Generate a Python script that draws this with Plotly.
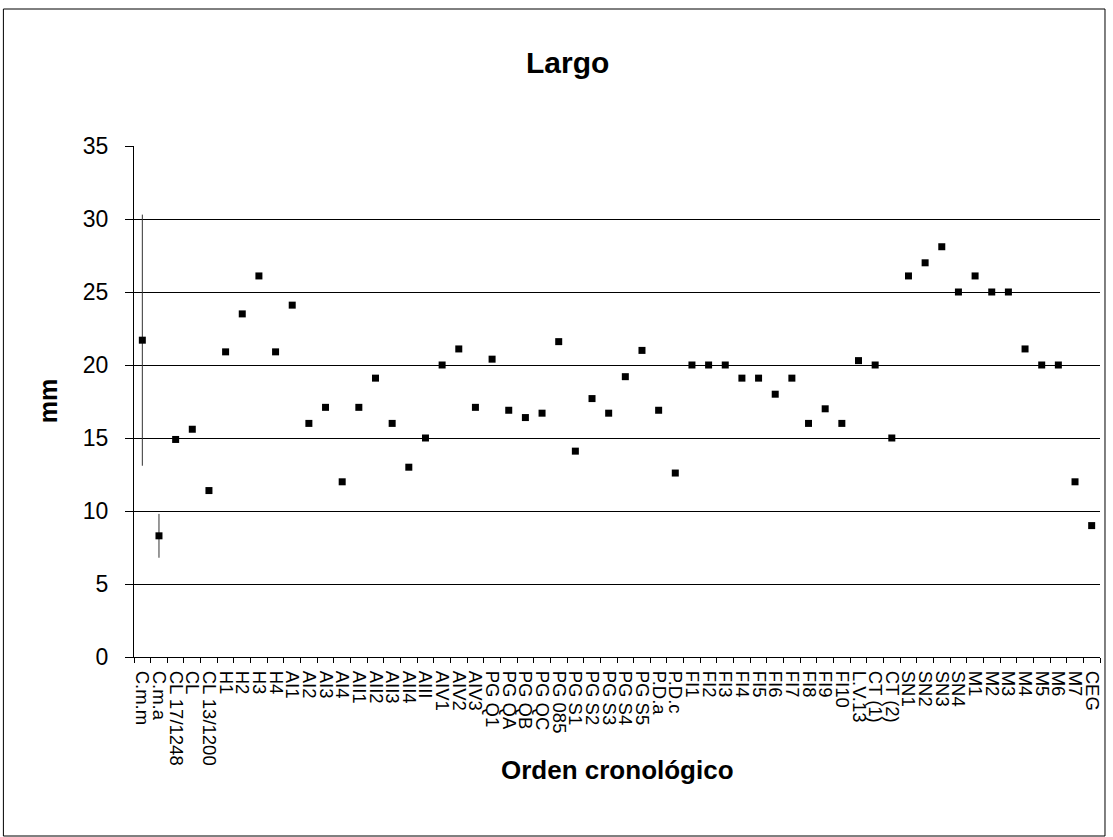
import plotly.graph_objects as go

categories = ["C.m.m", "C.m.a", "CL 17/1248", "CL", "CL 13/1200", "H1", "H2", "H3", "H4",
              "AI1", "AI2", "AI3", "AI4", "AII1", "AII2", "AII3", "AII4", "AIII",
              "AIV1", "AIV2", "AIV3", "PG Q1", "PG QA", "PG QB", "PG QC", "PG 085",
              "PG S1", "PG S2", "PG S3", "PG S4", "PG S5", "P.D.a", "P.D.c",
              "FI1", "FI2", "FI3", "FI4", "FI5", "FI6", "FI7", "FI8", "FI9", "FI10",
              "L.V.13", "CT (1)", "CT (2)", "SN1", "SN2", "SN3", "SN4",
              "M1", "M2", "M3", "M4", "M5", "M6", "M7", "CEG"]

largo = [21.7, 8.3, 14.9, 15.6, 11.4, 20.9, 23.5, 26.1, 20.9,
         24.1, 16.0, 17.1, 12.0, 17.1, 19.1, 16.0, 13.0, 15.0,
         20.0, 21.1, 17.1, 20.4, 16.9, 16.4, 16.7, 21.6,
         14.1, 17.7, 16.7, 19.2, 21.0, 16.9, 12.6,
         20.0, 20.0, 20.0, 19.1, 19.1, 18.0, 19.1, 16.0, 17.0, 16.0,
         20.3, 20.0, 15.0, 26.1, 27.0, 28.1, 25.0,
         26.1, 25.0, 25.0, 21.1, 20.0, 20.0, 12.0, 9.0]

error = [8.6, 1.5] + [0] * (len(categories) - 2)

y_ticks = [0, 5, 10, 15, 20, 25, 30, 35]

W, H = 1113, 837
L, R, T, B = 134, 10, 146, 180
PW, PH = W - L - R, H - T - B


def px_x(x):
    return (x - L) / PW


def px_y(y):
    return (H - B - y) / PH


FONT = "Liberation Sans, Arial, sans-serif"

fig = go.Figure()
fig.add_trace(go.Scatter(
    x=categories, y=largo, mode="markers",
    marker=dict(symbol="square", size=7, color="black"),
    error_y=dict(type="data", array=error, visible=True, width=0,
                 thickness=1, color="#333333"),
    showlegend=False,
))

fig.update_layout(
    width=W, height=H,
    margin=dict(l=L, r=R, t=T, b=B),
    paper_bgcolor="white", plot_bgcolor="white",
    font=dict(family=FONT, color="black"),
    xaxis=dict(
        type="category", range=[-0.5, len(categories) - 0.5],
        tickmode="array", tickvals=categories, ticktext=categories,
        showline=True, linecolor="black", linewidth=1,
        showgrid=False, ticks="outside", ticklen=5, tickcolor="black",
        tickson="boundaries", tickangle=90, ticklabelstandoff=9,
        tickfont=dict(size=18.5, family=FONT), zeroline=False,
    ),
    yaxis=dict(
        range=[0, 35], tickvals=y_ticks,
        showline=True, linecolor="black", linewidth=1,
        showgrid=True, gridcolor="black", gridwidth=1,
        ticks="outside", ticklen=8, tickcolor="black", ticklabelstandoff=12,
        tickfont=dict(size=23, family=FONT), zeroline=False,
    ),
    annotations=[
        dict(text="<b>Largo</b>", x=px_x(569), y=px_y(63), xref="paper", yref="paper",
             showarrow=False, font=dict(size=30, family=FONT), xanchor="center", yanchor="middle"),
        dict(text="<b>mm</b>", x=px_x(48), y=px_y(401), xref="paper", yref="paper",
             showarrow=False, textangle=-90, font=dict(size=25, family=FONT),
             xanchor="center", yanchor="middle"),
        dict(text="<b>Orden cronológico</b>", x=px_x(619), y=px_y(770), xref="paper", yref="paper",
             showarrow=False, font=dict(size=26, family=FONT), xanchor="center", yanchor="middle"),
    ],
    shapes=[
        dict(type="rect", xref="paper", yref="paper",
             x0=px_x(3), x1=px_x(1108), y0=px_y(836), y1=px_y(9),
             line=dict(color="black", width=1), fillcolor="rgba(0,0,0,0)", layer="below"),
    ],
)

fig.write_html("out.html", config={"displayModeBar": False},
               post_script="document.body.style.margin='0';document.body.style.overflow='hidden';")
